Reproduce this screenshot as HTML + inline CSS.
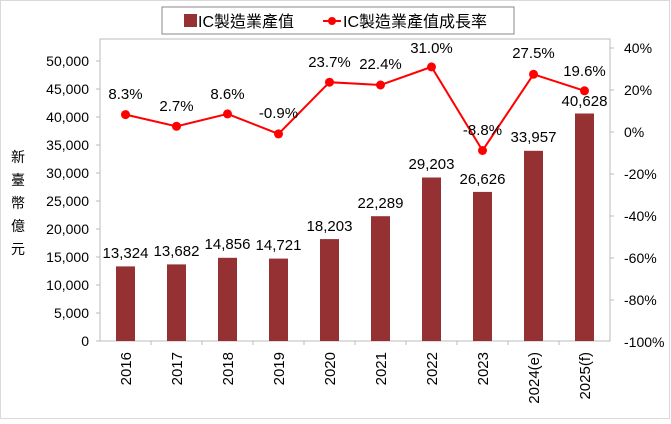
<!DOCTYPE html>
<html><head><meta charset="utf-8"><style>
body{margin:0;background:#fff}
text{font-family:"Liberation Sans","Noto Sans CJK TC",sans-serif;fill:#000}
</style></head><body>
<svg width="671" height="419" viewBox="0 0 671 419" xmlns="http://www.w3.org/2000/svg">
<rect x="0.5" y="0.5" width="669" height="418" fill="#fff" stroke="#d9d9d9"/>
<rect x="162" y="7" width="352" height="27" fill="#fff" stroke="#888"/>
<rect x="184" y="14" width="13" height="13" fill="#953033"/>
<text x="198" y="27" font-size="16">IC製造業產值</text>
<line x1="323" y1="21" x2="341" y2="21" stroke="#f00" stroke-width="2"/>
<circle cx="332" cy="21" r="4" fill="#f00"/>
<text x="343" y="27" font-size="16">IC製造業產值成長率</text>
<rect x="100" y="39" width="510" height="302" fill="none" stroke="#bbb"/>
<g font-size="14" text-anchor="end">
<text x="89" y="346">0</text><text x="89" y="318">5,000</text><text x="89" y="290">10,000</text>
<text x="89" y="262">15,000</text><text x="89" y="234">20,000</text><text x="89" y="206">25,000</text>
<text x="89" y="178">30,000</text><text x="89" y="150">35,000</text><text x="89" y="122">40,000</text>
<text x="89" y="94">45,000</text><text x="89" y="66">50,000</text>
</g>
<g font-size="14" text-anchor="start">
<text x="624" y="53">40%</text><text x="624" y="95">20%</text><text x="624" y="137">0%</text>
<text x="624" y="179">-20%</text><text x="624" y="221">-40%</text><text x="624" y="263">-60%</text>
<text x="624" y="305">-80%</text><text x="624" y="347">-100%</text>
</g>
<g stroke="#bbb">
<line x1="96" y1="341" x2="100" y2="341"/><line x1="96" y1="313" x2="100" y2="313"/><line x1="96" y1="285" x2="100" y2="285"/><line x1="96" y1="257" x2="100" y2="257"/><line x1="96" y1="229" x2="100" y2="229"/><line x1="96" y1="201" x2="100" y2="201"/><line x1="96" y1="173" x2="100" y2="173"/><line x1="96" y1="145" x2="100" y2="145"/><line x1="96" y1="117" x2="100" y2="117"/><line x1="96" y1="89" x2="100" y2="89"/><line x1="96" y1="61" x2="100" y2="61"/>
<line x1="610" y1="48" x2="614" y2="48"/><line x1="610" y1="90" x2="614" y2="90"/><line x1="610" y1="132" x2="614" y2="132"/><line x1="610" y1="174" x2="614" y2="174"/><line x1="610" y1="216" x2="614" y2="216"/><line x1="610" y1="258" x2="614" y2="258"/><line x1="610" y1="300" x2="614" y2="300"/>
<line x1="151" y1="341" x2="151" y2="345"/><line x1="202" y1="341" x2="202" y2="345"/><line x1="253" y1="341" x2="253" y2="345"/><line x1="304" y1="341" x2="304" y2="345"/><line x1="355" y1="341" x2="355" y2="345"/><line x1="406" y1="341" x2="406" y2="345"/><line x1="457" y1="341" x2="457" y2="345"/><line x1="508" y1="341" x2="508" y2="345"/><line x1="559" y1="341" x2="559" y2="345"/>
</g>
<g font-size="14" text-anchor="middle">
<text x="18" y="162">新</text><text x="18" y="185">臺</text><text x="18" y="208">幣</text><text x="18" y="231">億</text><text x="18" y="254">元</text>
</g>
<g fill="#953033">
<rect x="116" y="266.4" width="19" height="74.6"/>
<rect x="167" y="264.4" width="19" height="76.6"/>
<rect x="218" y="257.8" width="19" height="83.2"/>
<rect x="269" y="258.6" width="19" height="82.4"/>
<rect x="320" y="239.1" width="19" height="101.9"/>
<rect x="371" y="216.2" width="19" height="124.8"/>
<rect x="422" y="177.5" width="19" height="163.5"/>
<rect x="473" y="191.9" width="19" height="149.1"/>
<rect x="524" y="150.8" width="19" height="190.2"/>
<rect x="575" y="113.5" width="19" height="227.5"/>
</g>
<g font-size="15" text-anchor="middle">
<text x="125.5" y="258">13,324</text><text x="176.5" y="256">13,682</text><text x="227.5" y="249">14,856</text>
<text x="278.5" y="250">14,721</text><text x="329.5" y="231">18,203</text><text x="380.5" y="208">22,289</text>
<text x="431.5" y="169">29,203</text><text x="482.5" y="184">26,626</text><text x="533.5" y="142">33,957</text>
<text x="584.5" y="106">40,628</text>
</g>
<polyline fill="none" stroke="#f00" stroke-width="2" points="125.5,114.6 176.5,126.3 227.5,113.9 278.5,133.9 329.5,82.2 380.5,85 431.5,66.9 482.5,150.5 533.5,74.3 584.5,90.8"/>
<g fill="#f00">
<circle cx="125.5" cy="114.6" r="4.5"/><circle cx="176.5" cy="126.3" r="4.5"/><circle cx="227.5" cy="113.9" r="4.5"/><circle cx="278.5" cy="133.9" r="4.5"/><circle cx="329.5" cy="82.2" r="4.5"/><circle cx="380.5" cy="85" r="4.5"/><circle cx="431.5" cy="66.9" r="4.5"/><circle cx="482.5" cy="150.5" r="4.5"/><circle cx="533.5" cy="74.3" r="4.5"/><circle cx="584.5" cy="90.8" r="4.5"/>
</g>
<g font-size="15" text-anchor="middle">
<text x="125.5" y="99">8.3%</text><text x="176.5" y="111">2.7%</text><text x="227.5" y="99">8.6%</text>
<text x="278.5" y="118">-0.9%</text><text x="329.5" y="67">23.7%</text><text x="380.5" y="69">22.4%</text>
<text x="431.5" y="53">31.0%</text><text x="482.5" y="135">-8.8%</text><text x="533.5" y="58">27.5%</text>
<text x="584.5" y="76">19.6%</text>
</g>
<g font-size="15" text-anchor="end">
<text transform="translate(131,352) rotate(-90)">2016</text>
<text transform="translate(182,352) rotate(-90)">2017</text>
<text transform="translate(233,352) rotate(-90)">2018</text>
<text transform="translate(284,352) rotate(-90)">2019</text>
<text transform="translate(335,352) rotate(-90)">2020</text>
<text transform="translate(386,352) rotate(-90)">2021</text>
<text transform="translate(437,352) rotate(-90)">2022</text>
<text transform="translate(488,352) rotate(-90)">2023</text>
<text transform="translate(539,352) rotate(-90)">2024(e)</text>
<text transform="translate(590,352) rotate(-90)">2025(f)</text>
</g>
</svg>
</body></html>
